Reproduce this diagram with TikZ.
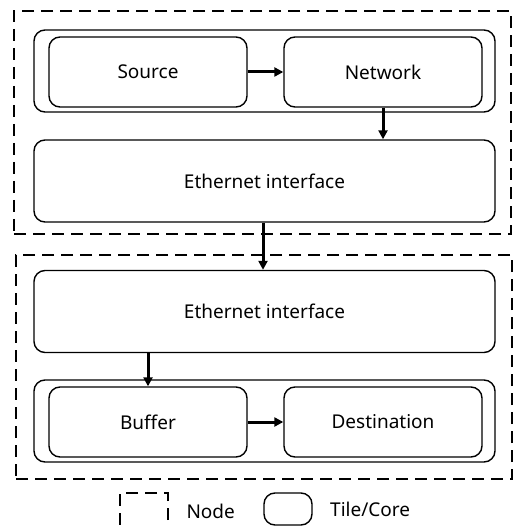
\documentclass[tikz,border=0pt]{standalone}
\usepackage{fontspec}
\setmainfont{Noto Sans}
\usetikzlibrary{arrows.meta}
\begin{document}
\begin{tikzpicture}[
    x=1pt,y=-1pt,
    ND/.style={draw,line width=2.3pt,dash pattern=on 12pt off 7pt,inner sep=0pt},
    TC/.style={draw,rounded corners=11pt,line width=1.4pt,inner sep=0pt},
    BX/.style={TC,minimum width=198pt,minimum height=70pt},
    WB/.style={TC,minimum width=461pt,minimum height=82pt},
    AR/.style={line width=3pt,-{Triangle[length=9pt,width=9pt]}},
    font=\fontsize{19}{22}\selectfont
    ]
    \useasboundingbox (0,0) rectangle (514,526);
    % sending node
    \node [ND,minimum width=497pt,minimum height=223pt] (N1) at (262.5,122.5) {};
    \node [WB] (T1) at (264.5,71) {};
    \node [BX] (SRC) at (148,72) {Source};
    \node [BX] (NET) at (383,72) {Network};
    \node [WB] (EIF1) at (264.5,181) {Ethernet interface};
    % receiving node
    \node [ND,minimum width=496pt,minimum height=224pt] (N2) at (264,367) {};
    \node [WB] (EIF2) at (264.5,311.5) {Ethernet interface};
    \node [WB] (T2) at (264.5,421) {};
    \node [BX] (BUF) at (148,422) {Buffer};
    \node [BX] (DST) at (383,422) {Destination};
    % arrows
    \draw [AR] (SRC) -- (NET);
    \draw [AR] (NET.south) -- (NET.south |- EIF1.north);
    \draw [AR] (EIF1.south -| 263,0) -- (EIF2.north -| 263,0);
    \draw [AR] (EIF2.south -| BUF) -- (BUF.north);
    \draw [AR] (BUF) -- (DST);
    % legend
    \node [ND,line width=2pt,minimum width=48pt,minimum height=36pt] (LN) at (144,511) {};
    \node [right=14pt] (LNT) at (LN.east) {Node};
    \node [TC,minimum width=48pt,minimum height=32pt] (LT) at (288,509) {};
    \node [right=14pt] (LTT) at (LT.east) {Tile/Core};
\end{tikzpicture}
\end{document}
